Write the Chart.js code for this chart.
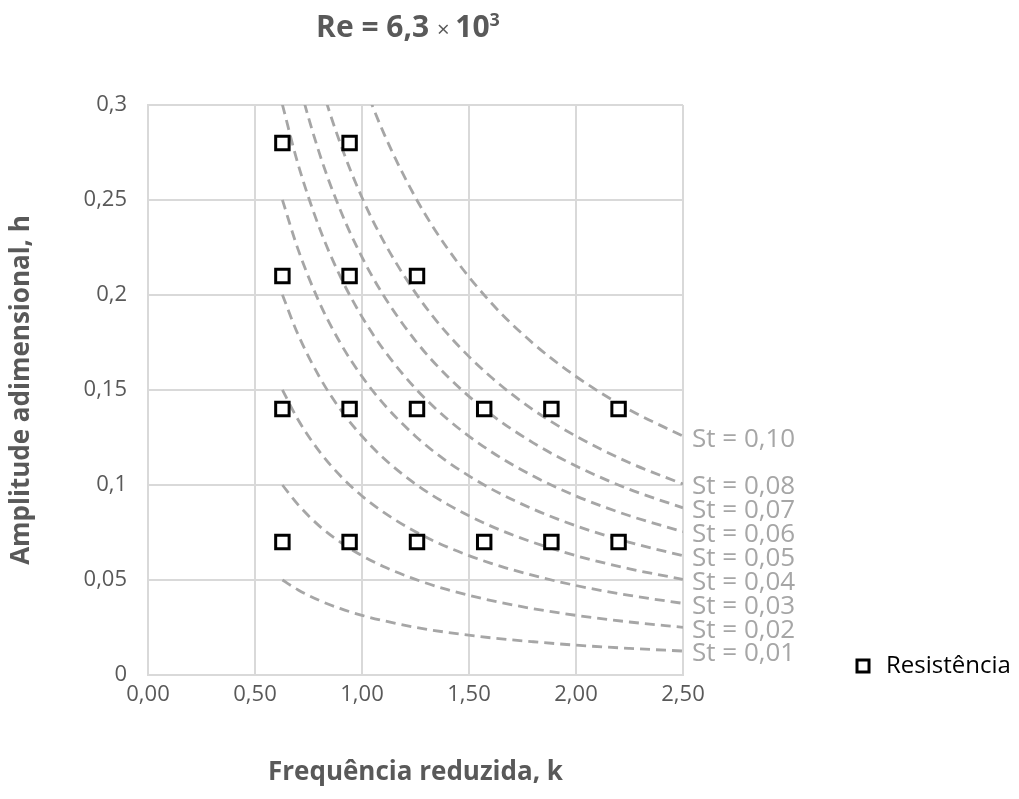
<!DOCTYPE html>
<html>
<head>
<meta charset="utf-8">
<script src="https://cdn.jsdelivr.net/npm/chart.js@4.4.1/dist/chart.umd.min.js"></script>
<style>
    body { margin: 0; background: #ffffff; }
    #wrap { width: 1019px; height: 799px; position: relative; }
</style>
</head>
<body>
<div id="wrap"><canvas id="strouhalChart"></canvas></div>
<script>
// measured points (reduced frequency k, amplitude h)
const resistK = [0.628, 0.942, 0.628, 0.942, 1.257, 0.628, 0.942, 1.257, 1.571, 1.885, 2.199, 0.628, 0.942, 1.257, 1.571, 1.885, 2.199];
const resistH = [0.28, 0.28, 0.21, 0.21, 0.21, 0.14, 0.14, 0.14, 0.14, 0.14, 0.14, 0.07, 0.07, 0.07, 0.07, 0.07, 0.07];

// constant Strouhal curves, sampled at these k values
const curveK = [0.628, 0.7, 0.8, 0.9, 1.0, 1.1, 1.25, 1.4, 1.6, 1.8, 2.0, 2.25, 2.5];
const st001 = [0.0500, 0.0449, 0.0393, 0.0349, 0.0314, 0.0286, 0.0251, 0.0224, 0.0196, 0.0175, 0.0157, 0.0140, 0.0126];
const st002 = [0.1000, 0.0898, 0.0785, 0.0698, 0.0628, 0.0571, 0.0503, 0.0449, 0.0393, 0.0349, 0.0314, 0.0279, 0.0251];
const st003 = [0.1501, 0.1346, 0.1178, 0.1047, 0.0942, 0.0857, 0.0754, 0.0673, 0.0589, 0.0524, 0.0471, 0.0419, 0.0377];
const st004 = [0.2001, 0.1795, 0.1571, 0.1396, 0.1257, 0.1142, 0.1005, 0.0898, 0.0785, 0.0698, 0.0628, 0.0559, 0.0503];
const st005 = [0.2501, 0.2244, 0.1963, 0.1745, 0.1571, 0.1428, 0.1257, 0.1122, 0.0982, 0.0873, 0.0785, 0.0698, 0.0628];
const st006 = [0.3002, 0.2693, 0.2356, 0.2094, 0.1885, 0.1714, 0.1508, 0.1346, 0.1178, 0.1047, 0.0942, 0.0838, 0.0754];
const st007 = [0.3502, 0.3142, 0.2749, 0.2443, 0.2199, 0.1999, 0.1759, 0.1571, 0.1374, 0.1222, 0.1100, 0.0977, 0.0880];
const st008 = [0.4002, 0.3590, 0.3142, 0.2793, 0.2513, 0.2285, 0.2011, 0.1795, 0.1571, 0.1396, 0.1257, 0.1117, 0.1005];
const st010 = [0.5003, 0.4488, 0.3927, 0.3491, 0.3142, 0.2856, 0.2513, 0.2244, 0.1963, 0.1745, 0.1571, 0.1396, 0.1257];
const curveLabels = ['St = 0,10', 'St = 0,08', 'St = 0,07', 'St = 0,06', 'St = 0,05', 'St = 0,04', 'St = 0,03', 'St = 0,02', 'St = 0,01'];
const curveValues = [st010, st008, st007, st006, st005, st004, st003, st002, st001];

const xTickLabels = ['0,00', '0,50', '1,00', '1,50', '2,00', '2,50'];
const yTickLabels = ['0', '0,05', '0,1', '0,15', '0,2', '0,25', '0,3'];
const seriesName = 'Resistência';

const FONT = "'Open Sans', 'Noto Sans', sans-serif";

function toPoints(xs, ys) {
    return xs.map((x, i) => ({ x: x, y: ys[i] }));
}

// St labels, title and legend drawn on the canvas
const extrasPlugin = {
    id: 'extras',
    afterDatasetsDraw(chart) {
        const ctx = chart.ctx;
        const area = chart.chartArea;
        const yScale = chart.scales.y;
        ctx.save();
        ctx.font = '26px ' + FONT;
        ctx.fillStyle = '#a6a6a6';
        ctx.textAlign = 'left';
        ctx.textBaseline = 'middle';
        curveValues.forEach((vals, i) => {
            const y = yScale.getPixelForValue(vals[vals.length - 1]);
            ctx.fillText(curveLabels[i], area.right + 9, y + 3);
        });
        ctx.restore();
    },
    afterDraw(chart) {
        const ctx = chart.ctx;
        ctx.save();
        // title: Re = 6,3 × 10³
        const parts = [
            { t: 'Re = 6,3 ', f: 'bold 30px ' + FONT, dy: 0 },
            { t: '× ', f: '22px ' + FONT, dy: 0 },
            { t: '10', f: 'bold 30px ' + FONT, dy: 0 },
            { t: '3', f: 'bold 18px ' + FONT, dy: -11 }
        ];
        let total = 0;
        parts.forEach(p => { ctx.font = p.f; p.w = ctx.measureText(p.t).width; total += p.w; });
        let x = 408 - total / 2;
        ctx.fillStyle = '#595959';
        ctx.textBaseline = 'alphabetic';
        ctx.textAlign = 'left';
        parts.forEach(p => {
            ctx.font = p.f;
            ctx.fillText(p.t, x, 37 + p.dy);
            x += p.w;
        });

        // legend
        ctx.strokeStyle = '#000000';
        ctx.lineWidth = 3;
        ctx.fillStyle = '#ffffff';
        ctx.fillRect(857, 660, 12, 12);
        ctx.strokeRect(857, 660, 12, 12);
        ctx.fillStyle = '#000000';
        ctx.font = '24px ' + FONT;
        ctx.textBaseline = 'middle';
        ctx.fillText(seriesName, 886, 666);
        ctx.restore();
    }
};

function initializeStrouhalChart() {
    const ctx = document.getElementById('strouhalChart').getContext('2d');

    const datasets = [{
        label: seriesName,
        data: toPoints(resistK, resistH),
        pointStyle: 'rect',
        pointRadius: 9.5,
        pointHoverRadius: 9.5,
        pointBorderWidth: 3,
        pointBorderColor: '#000000',
        pointBackgroundColor: '#ffffff',
        showLine: false
    }];

    curveValues.forEach((vals, i) => {
        datasets.push({
            label: curveLabels[i],
            data: toPoints(curveK, vals),
            showLine: true,
            borderColor: '#a6a6a6',
            borderWidth: 2.8,
            borderDash: [10, 6],
            pointRadius: 0,
            cubicInterpolationMode: 'monotone',
            fill: false
        });
    });

    const options = {
        responsive: true,
        maintainAspectRatio: false,
        animation: false,
        layout: {
            padding: { top: 105, right: 336, left: 0, bottom: 0 }
        },
        scales: {
            x: {
                type: 'linear',
                min: 0,
                max: 2.5,
                afterFit: (scale) => { scale.height = 124; },
                ticks: {
                    stepSize: 0.5,
                    color: '#595959',
                    font: { family: FONT, size: 22 },
                    padding: 7,
                    callback: (value, index) => xTickLabels[index]
                },
                grid: { color: '#d9d9d9', lineWidth: 2, drawTicks: false },
                border: { color: '#d9d9d9', width: 2 },
                title: {
                    display: true,
                    text: 'Frequência reduzida, k',
                    color: '#595959',
                    font: { family: FONT, size: 26, weight: 'bold' },
                    padding: { bottom: 11, top: 0 }
                }
            },
            y: {
                type: 'linear',
                min: 0,
                max: 0.3,
                afterFit: (scale) => { scale.width = 148; },
                ticks: {
                    stepSize: 0.05,
                    color: '#595959',
                    font: { family: FONT, size: 22 },
                    padding: 21,
                    callback: (value, index) => yTickLabels[index]
                },
                grid: { color: '#d9d9d9', lineWidth: 2, drawTicks: false },
                border: { color: '#d9d9d9', width: 2 },
                title: {
                    display: true,
                    text: 'Amplitude adimensional, h',
                    color: '#595959',
                    font: { family: FONT, size: 26, weight: 'bold' },
                    padding: { top: 6, bottom: 0 }
                }
            }
        },
        plugins: {
            legend: { display: false },
            tooltip: { enabled: false }
        }
    };

    new Chart(ctx, {
        type: 'scatter',
        data: { datasets: datasets },
        options: options,
        plugins: [extrasPlugin]
    });
}

if (document.readyState === 'loading') {
    document.addEventListener('DOMContentLoaded', initializeStrouhalChart);
} else {
    initializeStrouhalChart();
}
</script>
</body>
</html>
